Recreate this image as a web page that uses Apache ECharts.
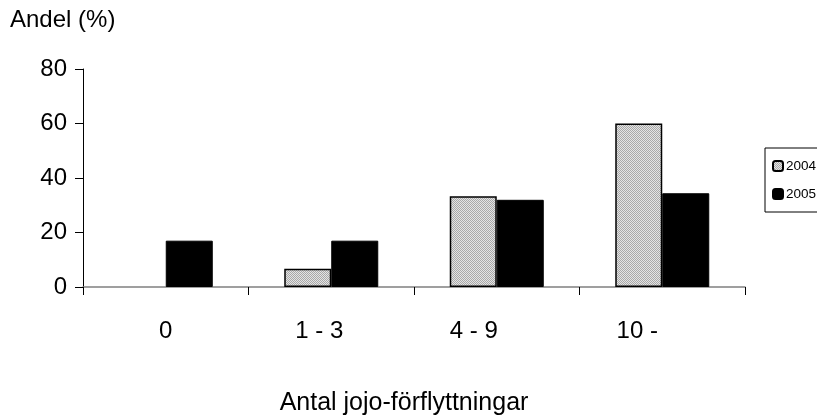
<!DOCTYPE html>
<html>
<head>
<meta charset="utf-8">
<script src="https://cdn.jsdelivr.net/npm/echarts@6/dist/echarts.min.js"></script>
<style>
  html, body { margin: 0; padding: 0; background: #fff; }
  #chart { width: 817px; height: 417px; }
</style>
</head>
<body>
<div id="chart"></div>
<script>
// Share (%) of jojo moves per group, per year
const categories = ['0', '1 - 3', '4 - 9', '10 -'];
const seriesNames = ['2004', '2005'];
const values2004 = [0, 6.7, 33.3, 60];
const values2005 = [17, 17, 32, 34.4];
const yTicks = [0, 20, 40, 60, 80];

// fine grey dot texture for the 2004 bars
function dotPattern() {
  const c = document.createElement('canvas');
  c.width = 2; c.height = 2;
  const g = c.getContext('2d');
  g.fillStyle = '#e4e4e4'; g.fillRect(0, 0, 2, 2);
  g.fillStyle = '#a8a8a8';
  g.fillRect(0, 0, 1, 1);
  g.fillRect(1, 1, 1, 1);
  return c;
}

// zero-height bars get no outline
function barData(values) {
  return values.map(v => v === 0 ? { value: v, itemStyle: { borderWidth: 0 } } : v);
}

const FONT = 'Liberation Sans, Arial, sans-serif';

// category labels sit slightly left of their band centres
const labelShift = [0, 12, 23, 25];
const labelRich = {};
labelShift.forEach((s, i) => {
  labelRich['c' + i] = { fontFamily: FONT, fontSize: 24, color: '#000', padding: [0, 2 * s, 0, 0] };
});

const chart = echarts.init(document.getElementById('chart'), null, { renderer: 'canvas' });

chart.setOption({
  animation: false,
  backgroundColor: '#fff',
  textStyle: { fontFamily: FONT, color: '#000' },
  title: {
    text: 'Andel (%)',
    left: 5,
    top: 3,
    textStyle: { fontFamily: FONT, fontSize: 24, fontWeight: 'normal', color: '#000' }
  },
  legend: {
    orient: 'vertical',
    left: 765,
    top: 148,
    padding: [11, 24, 11, 7],
    itemWidth: 10,
    itemHeight: 10,
    itemGap: 14,
    borderColor: '#000',
    borderWidth: 1,
    borderRadius: 0,
    backgroundColor: '#fff',
    textStyle: { fontFamily: FONT, fontSize: 13.5, color: '#000', padding: [0, 0, 0, -2] },
    data: seriesNames
  },
  grid: { left: 83, right: 72, top: 69, bottom: 130, containLabel: false, outerBoundsMode: 'none' },
  xAxis: {
    type: 'category',
    data: categories,
    name: 'Antal jojo-förflyttningar',
    nameLocation: 'middle',
    nameGap: 104,
    nameTextStyle: { fontFamily: FONT, fontSize: 25, color: '#000', padding: [0, 20, 0, 0] },
    axisLine: { show: true, lineStyle: { color: '#808080', width: 1.5 } },
    axisTick: { show: true, length: 8, lineStyle: { color: '#000', width: 1 } },
    axisLabel: {
      fontFamily: FONT, fontSize: 24, color: '#000', margin: 32,
      formatter: (value, idx) => '{c' + idx + '|' + value + '}',
      rich: labelRich
    }
  },
  yAxis: {
    type: 'value',
    min: yTicks[0],
    max: yTicks[yTicks.length - 1],
    interval: yTicks[1] - yTicks[0],
    axisLine: { show: true, lineStyle: { color: '#000', width: 1 } },
    axisTick: { show: true, length: 8, lineStyle: { color: '#000', width: 1 } },
    splitLine: { show: false },
    axisLabel: { fontFamily: FONT, fontSize: 24, color: '#000', margin: 16 }
  },
  series: [
    {
      name: seriesNames[0],
      type: 'bar',
      data: barData(values2004),
      barWidth: 47,
      barGap: '0%',
      itemStyle: {
        color: { image: dotPattern(), repeat: 'repeat' },
        borderColor: '#000',
        borderWidth: 1.5
      }
    },
    {
      name: seriesNames[1],
      type: 'bar',
      data: barData(values2005),
      barWidth: 47,
      barGap: '0%',
      itemStyle: { color: '#000', borderColor: '#000', borderWidth: 1 }
    }
  ]
});
</script>
</body>
</html>
